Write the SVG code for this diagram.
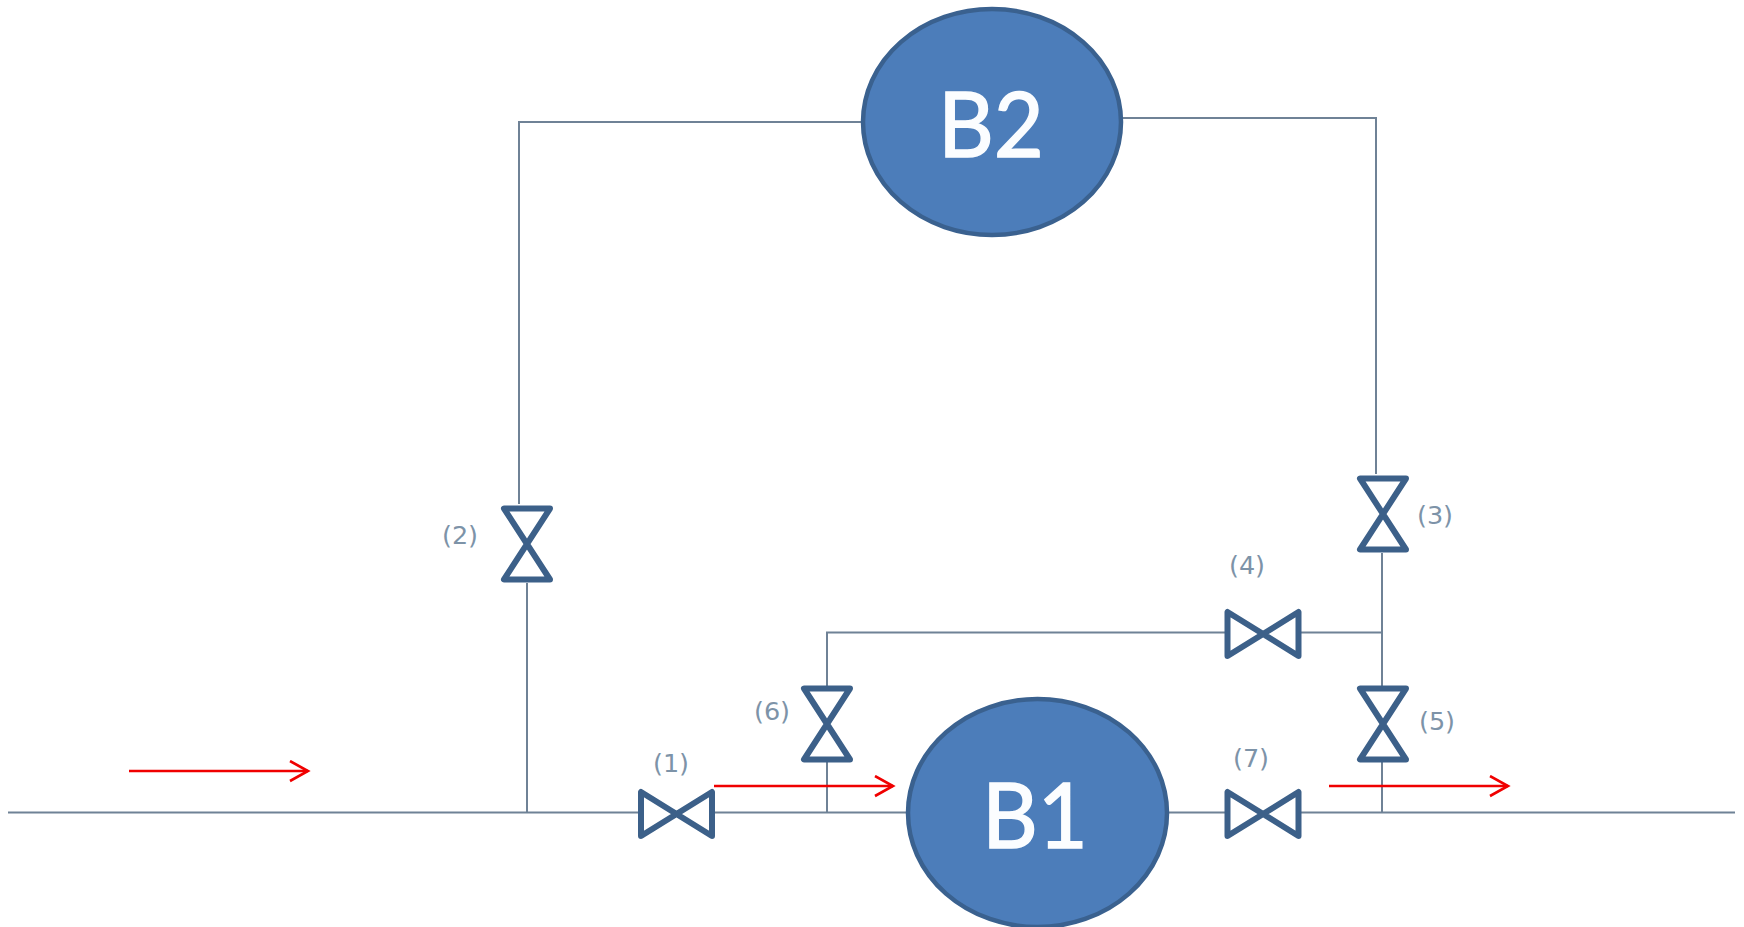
<svg xmlns="http://www.w3.org/2000/svg" width="1744" height="927" viewBox="0 0 1744 927">
<style>
.pipe{fill:none;stroke:#6f8296;stroke-width:2}
.flow{fill:none;stroke:#f00000;stroke-width:2.4;marker-end:url(#head)}
.valve{fill:none;stroke:#3c6089;stroke-width:6;stroke-linejoin:round}
.tank{fill:#4c7dba;stroke:#3a618f;stroke-width:4.5}
.tag{font-family:"DejaVu Sans",sans-serif;font-size:25.500px;fill:#7d93a8;text-anchor:middle}
.name{font-family:"Lato",sans-serif;font-size:92px;fill:#fbfdff;stroke:#fbfdff;stroke-width:1.500}
</style>
<defs>
<marker id="head" markerUnits="userSpaceOnUse" markerWidth="24" markerHeight="26" refX="19" refY="11" orient="auto">
<path d="M1 1L19 11L1 21" fill="none" stroke="#f00000" stroke-width="2.6"/>
</marker>
<path id="vv" d="M-23-35.500H23L-23 35.500H23Z"/>
<path id="hv" d="M-35.500-22V22L35.500-22V22Z"/>
</defs>
<rect width="1744" height="927" fill="#ffffff"/>
<g id="connectors">
<path class="pipe" d="M8 812.500H640M712 812.500H907M1168 812.500H1228M1298 812.500H1735"/>
<path class="pipe" d="M527 812.500V583"/>
<path class="pipe" d="M519 504V122H862"/>
<path class="pipe" d="M1122 118H1376V474"/>
<path class="pipe" d="M1382 553V688M1382 762V812.500"/>
<path class="pipe" d="M827 812.500V762M827 687V632.500H1228M1298 632.500H1382"/>
</g>
<g id="B2"><ellipse class="tank" cx="992" cy="122" rx="129" ry="113"/><text class="name" x="938" y="156.500" textLength="106" lengthAdjust="spacingAndGlyphs">B2</text></g>
<g id="B1"><ellipse class="tank" cx="1037.500" cy="813" rx="129.500" ry="114"/><text class="name" x="982" y="847.500" textLength="106" lengthAdjust="spacingAndGlyphs">B1</text></g>
<g id="valve1"><use class="valve" href="#hv" x="676.500" y="814"/><text class="tag" x="671" y="772">(1)</text></g>
<g id="valve2"><use class="valve" href="#vv" x="527" y="544"/><text class="tag" x="460" y="544">(2)</text></g>
<g id="valve3"><use class="valve" href="#vv" x="1383" y="514"/><text class="tag" x="1435" y="524">(3)</text></g>
<g id="valve4"><use class="valve" href="#hv" x="1263" y="634"/><text class="tag" x="1247" y="574">(4)</text></g>
<g id="valve5"><use class="valve" href="#vv" x="1383" y="724"/><text class="tag" x="1437" y="730">(5)</text></g>
<g id="valve6"><use class="valve" href="#vv" x="827" y="724"/><text class="tag" x="772" y="720">(6)</text></g>
<g id="valve7"><use class="valve" href="#hv" x="1263" y="814"/><text class="tag" x="1251" y="767">(7)</text></g>
<g id="flows">
<path class="flow" d="M129 771H308"/>
<path class="flow" d="M714 786H893"/>
<path class="flow" d="M1329 786H1508"/>
</g>
</svg>
